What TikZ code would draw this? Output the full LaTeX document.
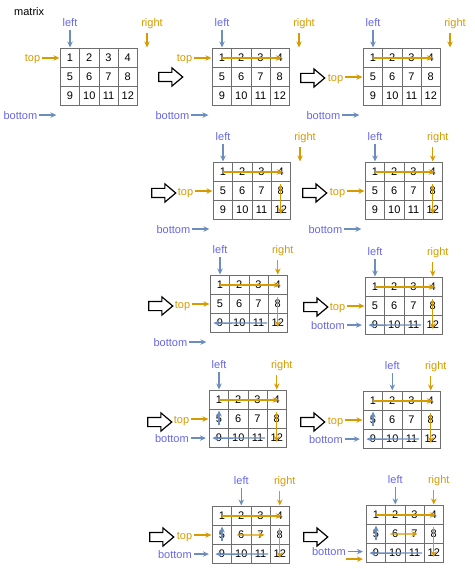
\documentclass[tikz,border=0pt]{standalone}
\usepackage{fontspec}
\setmainfont{Liberation Sans}
\usepackage{tikz}
\usetikzlibrary{positioning}
\usetikzlibrary{%
  matrix,%
  shapes.arrows,%
  arrows.meta%
}
\definecolor{gridgray}{RGB}{110,110,110}
\definecolor{arrblue}{RGB}{108,142,191}
\definecolor{labblue}{RGB}{102,102,230}
\definecolor{arrorange}{RGB}{215,155,0}

\begin{document}
\begin{tikzpicture}[x=1pt,y=-1pt,
		every node/.style={font=\fontsize{11pt}{13pt}\selectfont},
		cell/.style={draw=gridgray,line width=0.8pt,minimum width=19.25pt,minimum height=19pt,inner sep=0pt},
		spiral/.style={matrix of nodes,nodes={cell},column sep=-0.8pt,row sep=-0.8pt,inner sep=0pt,outer sep=0pt,anchor=north west},
		lab/.style={inner sep=2pt,text height=8pt,text depth=0pt},
		bluelab/.style={lab,text=labblue},
		orangelab/.style={lab,text=arrorange},
		bluearr/.style={-{Stealth[length=6pt,width=5.5pt,inset=2pt]},draw=arrblue,line width=1.4pt,shorten >=1pt},
		orangearr/.style={-{Stealth[length=6pt,width=5.5pt,inset=2pt]},draw=arrorange,line width=1.4pt,shorten >=1pt},
		nextarrow/.style={single arrow,draw=black,line width=1.2pt,fill=white,minimum height=24pt,minimum width=17pt,inner sep=4pt,single arrow head extend=4.5pt,single arrow tip angle=80}
	]
		\useasboundingbox (0,0) rectangle (474,569);
		\node[lab,anchor=base west] (title) at (12,16) {matrix};
		%
		%Step 1
		\matrix (m1) at (60,48) [spiral] {1 & 2 & 3 & 4\\ 5 & 6 & 7 & 8\\ 9 & 10 & 11 & 12\\};
		\coordinate (rc1) at ([xshift=19.25pt]m1-1-4.north);
		\coordinate (bc1) at ([xshift=-3pt,yshift=-19pt]m1-3-1.west);
		\node[bluelab,above=20pt of m1-1-1.north] (l1) {left};
		\node[orangelab,above=20pt of rc1,xshift=5pt] (r1) {right};
		\node[orangelab,left=18pt of m1-1-1.west] (t1) {top};
		\node[bluelab,left=18pt of bc1] (b1) {bottom};
		\draw[bluearr,shorten <=2pt] (l1) -- (m1-1-1.north);
		\draw[orangearr,shorten <=5pt] (r1.south -| rc1) -- (rc1);
		\draw[orangearr] (t1) -- (m1-1-1.west);
		\draw[bluearr] (b1) -- (bc1);
		\node[nextarrow] (h1) at (168,77) {};
		%
		%Step 2
		\matrix (m2) at (212,48) [spiral] {1 & 2 & 3 & 4\\ 5 & 6 & 7 & 8\\ 9 & 10 & 11 & 12\\};
		\coordinate (rc2) at ([xshift=19.25pt]m2-1-4.north);
		\coordinate (bc2) at ([xshift=-3pt,yshift=-19pt]m2-3-1.west);
		\node[bluelab,above=20pt of m2-1-1.north] (l2) {left};
		\node[orangelab,above=20pt of rc2,xshift=5pt] (r2) {right};
		\node[orangelab,left=18pt of m2-1-1.west] (t2) {top};
		\node[bluelab,left=18pt of bc2] (b2) {bottom};
		\draw[bluearr,shorten <=2pt] (l2) -- (m2-1-1.north);
		\draw[orangearr,shorten <=5pt] (r2.south -| rc2) -- (rc2);
		\draw[orangearr] (t2) -- (m2-1-1.west);
		\draw[bluearr] (b2) -- (bc2);
		\draw[orangearr] (m2-1-1.center) -- ([xshift=3pt]m2-1-4.center);
		\node[nextarrow] (h2) at (310,78) {};
		%
		%Step 3
		\matrix (m3) at (363,48) [spiral] {1 & 2 & 3 & 4\\ 5 & 6 & 7 & 8\\ 9 & 10 & 11 & 12\\};
		\coordinate (rc3) at ([xshift=19.25pt]m3-1-4.north);
		\coordinate (bc3) at ([xshift=-3pt,yshift=-19pt]m3-3-1.west);
		\node[bluelab,above=20pt of m3-1-1.north] (l3) {left};
		\node[orangelab,above=20pt of rc3,xshift=5pt] (r3) {right};
		\node[orangelab,left=18pt of m3-2-1.west] (t3) {top};
		\node[bluelab,left=18pt of bc3] (b3) {bottom};
		\draw[bluearr,shorten <=2pt] (l3) -- (m3-1-1.north);
		\draw[orangearr,shorten <=5pt] (r3.south -| rc3) -- (rc3);
		\draw[orangearr] (t3) -- (m3-2-1.west);
		\draw[bluearr] (b3) -- (bc3);
		\draw[orangearr] (m3-1-1.center) -- ([xshift=3pt]m3-1-4.center);
		\node[nextarrow] (h3) at (161,193) {};
		%
		%Step 4
		\matrix (m4) at (213,162) [spiral] {1 & 2 & 3 & 4\\ 5 & 6 & 7 & 8\\ 9 & 10 & 11 & 12\\};
		\coordinate (rc4) at ([xshift=19.25pt]m4-1-4.north);
		\coordinate (bc4) at ([xshift=-3pt,yshift=-19pt]m4-3-1.west);
		\node[bluelab,above=20pt of m4-1-1.north] (l4) {left};
		\node[orangelab,above=20pt of rc4,xshift=5pt] (r4) {right};
		\node[orangelab,left=18pt of m4-2-1.west] (t4) {top};
		\node[bluelab,left=18pt of bc4] (b4) {bottom};
		\draw[bluearr,shorten <=2pt] (l4) -- (m4-1-1.north);
		\draw[orangearr,shorten <=5pt] (r4.south -| rc4) -- (rc4);
		\draw[orangearr] (t4) -- (m4-2-1.west);
		\draw[bluearr] (b4) -- (bc4);
		\draw[orangearr] (m4-1-1.center) -- ([xshift=3pt]m4-1-4.center);
		\draw[orangearr] ([yshift=-3pt]m4-2-4.north) -- ([yshift=-5pt]m4-3-4.center);
		\node[nextarrow] (h4) at (312,193) {};
		%
		%Step 5
		\matrix (m5) at (365,162) [spiral] {1 & 2 & 3 & 4\\ 5 & 6 & 7 & 8\\ 9 & 10 & 11 & 12\\};
		\coordinate (bc5) at ([xshift=-3pt,yshift=-19pt]m5-3-1.west);
		\node[bluelab,above=20pt of m5-1-1.north] (l5) {left};
		\node[orangelab,above=20pt of m5-1-4.north,xshift=5pt] (r5) {right};
		\node[orangelab,left=18pt of m5-2-1.west] (t5) {top};
		\node[bluelab,left=18pt of bc5] (b5) {bottom};
		\draw[bluearr,shorten <=2pt] (l5) -- (m5-1-1.north);
		\draw[orangearr,shorten <=5pt] (r5.south -| m5-1-4.north) -- (m5-1-4.north);
		\draw[orangearr] (t5) -- (m5-2-1.west);
		\draw[bluearr] (b5) -- (bc5);
		\draw[orangearr] (m5-1-1.center) -- ([xshift=3pt]m5-1-4.center);
		\draw[orangearr] ([yshift=-3pt]m5-2-4.north) -- ([yshift=-5pt]m5-3-4.center);
		\node[nextarrow] (h5) at (158,306) {};
		%
		%Step 6
		\matrix (m6) at (210,275) [spiral] {1 & 2 & 3 & 4\\ 5 & 6 & 7 & 8\\ 9 & 10 & 11 & 12\\};
		\coordinate (bc6) at ([xshift=-3pt,yshift=-19pt]m6-3-1.west);
		\node[bluelab,above=20pt of m6-1-1.north] (l6) {left};
		\node[orangelab,above=20pt of m6-1-4.north,xshift=5pt] (r6) {right};
		\node[orangelab,left=18pt of m6-2-1.west] (t6) {top};
		\node[bluelab,left=18pt of bc6] (b6) {bottom};
		\draw[bluearr,shorten <=2pt] (l6) -- (m6-1-1.north);
		\draw[orangearr,shorten <=5pt] (r6.south -| m6-1-4.north) -- (m6-1-4.north);
		\draw[orangearr] (t6) -- (m6-2-1.west);
		\draw[bluearr] (b6) -- (bc6);
		\draw[orangearr] (m6-1-1.center) -- ([xshift=3pt]m6-1-4.center);
		\draw[orangearr] ([yshift=-3pt]m6-2-4.north) -- ([yshift=-5pt]m6-3-4.center);
		\draw[bluearr] ([xshift=-1pt]m6-3-4.west) -- ([xshift=2pt]m6-3-1.west);
		\node[nextarrow] (h6) at (313,307) {};
		%
		%Step 7
		\matrix (m7) at (365,277) [spiral] {1 & 2 & 3 & 4\\ 5 & 6 & 7 & 8\\ 9 & 10 & 11 & 12\\};
		\coordinate (bc7) at ([xshift=-2.5pt]m7-3-1.west);
		\node[bluelab,above=20pt of m7-1-1.north] (l7) {left};
		\node[orangelab,above=20pt of m7-1-4.north,xshift=5pt] (r7) {right};
		\node[orangelab,left=18pt of m7-2-1.west] (t7) {top};
		\node[bluelab,left=16pt of bc7] (b7) {bottom};
		\draw[bluearr,shorten <=2pt] (l7) -- (m7-1-1.north);
		\draw[orangearr,shorten <=5pt] (r7.south -| m7-1-4.north) -- (m7-1-4.north);
		\draw[orangearr] (t7) -- (m7-2-1.west);
		\draw[bluearr] (b7) -- (bc7);
		\draw[orangearr] (m7-1-1.center) -- ([xshift=3pt]m7-1-4.center);
		\draw[orangearr] ([yshift=-3pt]m7-2-4.north) -- ([yshift=-5pt]m7-3-4.center);
		\draw[bluearr] ([xshift=-2pt]m7-3-4.west) -- ([xshift=2pt]m7-3-1.west);
		\node[nextarrow] (h7) at (157,422) {};
		%
		%Step 8
		\matrix (m8) at (209,390) [spiral] {1 & 2 & 3 & 4\\ 5 & 6 & 7 & 8\\ 9 & 10 & 11 & 12\\};
		\coordinate (bc8) at ([xshift=-2.5pt]m8-3-1.west);
		\node[bluelab,above=20pt of m8-1-1.north] (l8) {left};
		\node[orangelab,above=20pt of m8-1-4.north,xshift=5pt] (r8) {right};
		\node[orangelab,left=18pt of m8-2-1.west] (t8) {top};
		\node[bluelab,left=16pt of bc8] (b8) {bottom};
		\draw[bluearr,shorten <=2pt] (l8) -- (m8-1-1.north);
		\draw[orangearr,shorten <=5pt] (r8.south -| m8-1-4.north) -- (m8-1-4.north);
		\draw[orangearr] (t8) -- (m8-2-1.west);
		\draw[bluearr] (b8) -- (bc8);
		\draw[orangearr] (m8-1-1.center) -- ([xshift=3pt]m8-1-4.center);
		\draw[orangearr] ([yshift=-3pt]m8-2-4.north) -- ([yshift=-5pt]m8-3-4.center);
		\draw[bluearr] ([xshift=-2pt]m8-3-4.west) -- ([xshift=2pt]m8-3-1.west);
		\draw[bluearr] ([yshift=-6pt]m8-2-1.center) -- (m8-2-1.north);
		\node[nextarrow] (h8) at (310,422) {};
		%
		%Step 9
		\matrix (m9) at (363,391) [spiral] {1 & 2 & 3 & 4\\ 5 & 6 & 7 & 8\\ 9 & 10 & 11 & 12\\};
		\coordinate (bc9) at ([xshift=-2.5pt]m9-3-1.west);
		\node[bluelab,above=20pt of m9-1-2.north] (l9) {left};
		\node[orangelab,above=20pt of m9-1-4.north,xshift=5pt] (r9) {right};
		\node[orangelab,left=18pt of m9-2-1.west] (t9) {top};
		\node[bluelab,left=16pt of bc9] (b9) {bottom};
		\draw[bluearr,shorten <=2pt] (l9) -- (m9-1-2.north);
		\draw[orangearr,shorten <=5pt] (r9.south -| m9-1-4.north) -- (m9-1-4.north);
		\draw[orangearr] (t9) -- (m9-2-1.west);
		\draw[bluearr] (b9) -- (bc9);
		\draw[orangearr] (m9-1-1.center) -- ([xshift=3pt]m9-1-4.center);
		\draw[orangearr] ([yshift=-3pt]m9-2-4.north) -- ([yshift=-5pt]m9-3-4.center);
		\draw[bluearr] ([xshift=-2pt]m9-3-4.west) -- ([xshift=2pt]m9-3-1.west);
		\draw[bluearr] ([yshift=-6pt]m9-2-1.center) -- (m9-2-1.north);
		\node[nextarrow] (h9) at (159,537) {};
		%
		%Step 10
		\matrix (m10) at (212,506) [spiral] {1 & 2 & 3 & 4\\ 5 & 6 & 7 & 8\\ 9 & 10 & 11 & 12\\};
		\coordinate (bc10) at ([xshift=-2.5pt]m10-3-1.west);
		\node[bluelab,above=20pt of m10-1-2.north] (l10) {left};
		\node[orangelab,above=20pt of m10-1-4.north,xshift=5pt] (r10) {right};
		\node[orangelab,left=18pt of m10-2-1.west] (t10) {top};
		\node[bluelab,left=16pt of bc10] (b10) {bottom};
		\draw[bluearr,shorten <=2pt] (l10) -- (m10-1-2.north);
		\draw[orangearr,shorten <=5pt] (r10.south -| m10-1-4.north) -- (m10-1-4.north);
		\draw[orangearr] (t10) -- (m10-2-1.west);
		\draw[bluearr] (b10) -- (bc10);
		\draw[orangearr] (m10-1-1.center) -- ([xshift=3pt]m10-1-4.center);
		\draw[orangearr] ([yshift=-3pt]m10-2-4.north) -- ([yshift=-5pt]m10-3-4.center);
		\draw[bluearr] ([xshift=-2pt]m10-3-4.west) -- ([xshift=2pt]m10-3-1.west);
		\draw[bluearr] ([yshift=-6pt]m10-2-1.center) -- (m10-2-1.north);
		\draw[orangearr] ([xshift=-4pt]m10-2-2.center) -- ([xshift=5pt]m10-2-3.center);
		\node[nextarrow] (h10) at (313,537) {};
		%
		%Step 11
		\matrix (m11) at (366,505) [spiral] {1 & 2 & 3 & 4\\ 5 & 6 & 7 & 8\\ 9 & 10 & 11 & 12\\};
		\coordinate (bc11) at ([xshift=-2.5pt,yshift=1.5pt]m11-3-1.west);
		\coordinate (tc11) at ([xshift=-2.5pt,yshift=-6pt]m11-3-1.west);
		\coordinate (ts11) at ([xshift=-18pt]tc11);
		\node[bluelab,above=20pt of m11-1-2.north] (l11) {left};
		\node[orangelab,above=20pt of m11-1-4.north,xshift=5pt] (r11) {right};
		\node[bluelab,left=16pt of bc11] (b11) {bottom};
		\draw[bluearr,shorten <=2pt] (l11) -- (m11-1-2.north);
		\draw[orangearr,shorten <=5pt] (r11.south -| m11-1-4.north) -- (m11-1-4.north);
		\draw[orangearr] (ts11) -- (tc11);
		\draw[bluearr] (b11) -- (bc11);
		\draw[orangearr] (m11-1-1.center) -- ([xshift=3pt]m11-1-4.center);
		\draw[orangearr] ([yshift=-3pt]m11-2-4.north) -- ([yshift=-5pt]m11-3-4.center);
		\draw[bluearr] ([xshift=-2pt]m11-3-4.west) -- ([xshift=2pt]m11-3-1.west);
		\draw[bluearr] ([yshift=-6pt]m11-2-1.center) -- (m11-2-1.north);
		\draw[orangearr] ([xshift=-5pt]m11-2-2.center) -- ([xshift=4pt]m11-2-3.center);
		
	\end{tikzpicture}
\end{document}
